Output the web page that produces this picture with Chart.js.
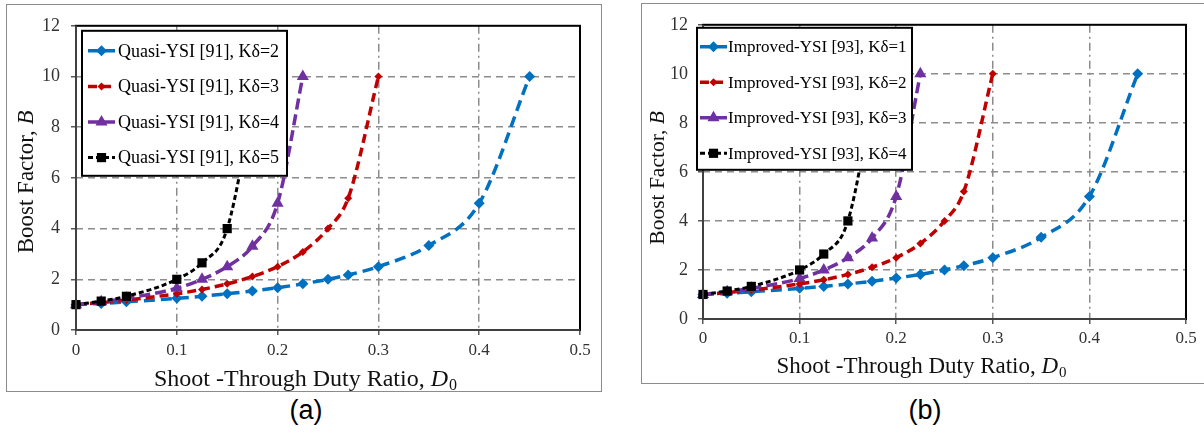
<!DOCTYPE html>
<html>
<head>
<meta charset="utf-8">
<script src="https://cdn.jsdelivr.net/npm/chart.js@4.4.0/dist/chart.umd.min.js"></script>
<style>
body { margin: 0; width: 1204px; height: 435px; background: #fff; position: relative; overflow: hidden; }
.box { position: absolute; border: 1px solid #8c8c8c; box-sizing: border-box; }
canvas { position: absolute; }
.cap { position: absolute; font-family: 'Liberation Sans', Arial, sans-serif; font-size: 27px; color: #000;
       transform: translate(-50%, -50%); white-space: nowrap; }
</style>
</head>
<body>
<div class="box" style="left:6px;top:4px;width:596px;height:388px"></div>
<div class="box" style="left:641px;top:3px;width:580px;height:381px"></div>
<canvas id="chartA" width="595" height="387" style="left:6px;top:4px"></canvas>
<canvas id="chartB" width="562" height="379" style="left:642px;top:4px"></canvas>
<div class="cap" style="left:306px;top:410px">(a)</div>
<div class="cap" style="left:925px;top:410px">(b)</div>
<script>
// shoot-through duty ratio D0 (x) and boost factor B (y)
const dBlue   = [0, 0.025, 0.05, 0.1, 0.125, 0.15, 0.175, 0.2, 0.225, 0.25, 0.27, 0.3, 0.35, 0.4, 0.45];
const bBlue   = [1, 1.05, 1.11, 1.25, 1.33, 1.43, 1.54, 1.67, 1.82, 2, 2.17, 2.5, 3.33, 5, 10];
const dRed    = [0, 0.025, 0.05, 0.1, 0.125, 0.15, 0.175, 0.2, 0.225, 0.25, 0.27, 0.3];
const bRed    = [1, 1.08, 1.18, 1.43, 1.6, 1.82, 2.11, 2.5, 3.08, 4, 5.2, 10];
const dPurple = [0, 0.025, 0.05, 0.1, 0.125, 0.15, 0.175, 0.2, 0.225];
const bPurple = [1, 1.11, 1.25, 1.65, 2, 2.5, 3.3, 5, 10];
const dBlack  = [0, 0.025, 0.05, 0.1, 0.125, 0.15, 0.18];
const bBlack  = [1, 1.14, 1.33, 2, 2.65, 4, 10];

// both panels show the same four curves
const labelsA = ['Quasi-YSI [91], Kδ=2', 'Quasi-YSI [91], Kδ=3', 'Quasi-YSI [91], Kδ=4', 'Quasi-YSI [91], Kδ=5'];
const labelsB = ['Improved-YSI [93], Kδ=1', 'Improved-YSI [93], Kδ=2', 'Improved-YSI [93], Kδ=3', 'Improved-YSI [93], Kδ=4'];

const xTicks = [0, 0.1, 0.2, 0.3, 0.4, 0.5];
const yTicks = [0, 2, 4, 6, 8, 10, 12];

const FONT = "'Liberation Serif', 'Times New Roman', serif";

const seriesStyle = [
	{color: '#0070C0', dash: [11, 6], width: 3.5, marker: 'rectRot', r: 5.5},
	{color: '#C00000', dash: [9, 5], width: 3.5, marker: 'rectRot', r: 4},
	{color: '#7030A0', dash: [11, 5], width: 3.5, marker: 'triangle', r: 7},
	{color: '#000000', dash: [5, 3], width: 3, marker: 'rect', r: 6.5}
];

function makeDatasets(labels) {
	const xs = [dBlue, dRed, dPurple, dBlack];
	const ys = [bBlue, bRed, bPurple, bBlack];
	return labels.map((lab, i) => {
		const s = seriesStyle[i];
		return {
			label: lab,
			data: xs[i].map((x, k) => ({x: x, y: ys[i][k]})),
			borderColor: s.color,
			backgroundColor: s.color,
			borderWidth: s.width,
			borderDash: s.dash,
			pointStyle: s.marker,
			pointRadius: s.r,
			pointBorderWidth: 0,
			pointBackgroundColor: s.color,
			cubicInterpolationMode: 'monotone',
			tension: 0.4,
			order: 3 - i,   // later series on top, like Excel
			clip: false
		};
	});
}

function marker(ctx, type, x, y, r) {
	ctx.beginPath();
	if (type === 'rectRot') {
		ctx.moveTo(x, y - r); ctx.lineTo(x + r, y); ctx.lineTo(x, y + r); ctx.lineTo(x - r, y);
	} else if (type === 'triangle') {
		ctx.moveTo(x, y - r); ctx.lineTo(x + r * 0.866, y + r * 0.5); ctx.lineTo(x - r * 0.866, y + r * 0.5);
	} else {
		const s = r * Math.SQRT1_2;
		ctx.rect(x - s, y - s, 2 * s, 2 * s);
	}
	ctx.closePath();
	ctx.fill();
}

// plot frame, boxed legend over the lines, and axis titles with italic symbols
const framePlugin = {
	id: 'frame',
	afterDatasetsDraw(chart, args, cfg) {
		const ctx = chart.ctx, a = chart.chartArea;
		ctx.save();
		ctx.lineWidth = 2;
		ctx.strokeStyle = '#000';
		ctx.strokeRect(a.left, a.top, a.right - a.left, a.bottom - a.top);
		ctx.strokeStyle = '#404040';
		ctx.beginPath();
		ctx.moveTo(a.left, a.top); ctx.lineTo(a.left, a.bottom); ctx.lineTo(a.right, a.bottom);
		ctx.stroke();

		const L = cfg.legend;
		const bx = a.left + L.dx, by = a.top + L.dy;
		ctx.fillStyle = '#fff';
		ctx.fillRect(bx, by, L.w, L.h);
		ctx.lineWidth = 2;
		ctx.strokeStyle = '#000';
		ctx.strokeRect(bx, by, L.w, L.h);
		ctx.font = L.size + 'px ' + FONT;
		ctx.textBaseline = 'middle';
		ctx.textAlign = 'left';
		chart.data.datasets.forEach((ds, i) => {
			const s = seriesStyle[i];
			const y = by + L.first + i * L.gap;
			ctx.strokeStyle = s.color;
			ctx.fillStyle = s.color;
			ctx.lineWidth = s.width;
			ctx.setLineDash(s.dash);
			ctx.beginPath();
			ctx.moveTo(bx + L.s0, y); ctx.lineTo(bx + L.s1, y);
			ctx.stroke();
			ctx.setLineDash([]);
			marker(ctx, s.marker, bx + (L.s0 + L.s1) / 2, y, s.r);
			ctx.fillStyle = '#000';
			ctx.fillText(ds.label, bx + L.tx, y + 1);
		});
		ctx.restore();
	},
	afterDraw(chart, args, cfg) {
		const ctx = chart.ctx, a = chart.chartArea;
		ctx.save();
		ctx.fillStyle = '#111';
		ctx.textAlign = 'left';
		ctx.textBaseline = 'alphabetic';

		// x title: Shoot -Through Duty Ratio, D0
		const X = cfg.xTitle, sz = X.size, sub = Math.round(sz * 0.65);
		const main = 'Shoot -Through Duty Ratio, ';
		ctx.font = sz + 'px ' + FONT;
		const w1 = ctx.measureText(main).width;
		ctx.font = 'italic ' + sz + 'px ' + FONT;
		const w2 = ctx.measureText('D').width;
		ctx.font = sub + 'px ' + FONT;
		const w3 = ctx.measureText('0').width;
		let x = (a.left + a.right) / 2 + X.dx - (w1 + w2 + w3) / 2;
		const base = a.bottom + X.dy + sz * 0.33;
		ctx.font = sz + 'px ' + FONT;
		ctx.fillText(main, x, base);
		ctx.font = 'italic ' + sz + 'px ' + FONT;
		ctx.fillText('D', x + w1, base);
		ctx.font = sub + 'px ' + FONT;
		ctx.fillText('0', x + w1 + w2 + 1, base + sz * 0.18);

		// y title: Boost Factor, B
		const Y = cfg.yTitle, ys = Y.size;
		ctx.translate(Y.x, (a.top + a.bottom) / 2 + Y.dy);
		ctx.rotate(-Math.PI / 2);
		ctx.font = ys + 'px ' + FONT;
		const v1 = ctx.measureText('Boost Factor, ').width;
		ctx.font = 'italic ' + ys + 'px ' + FONT;
		const v2 = ctx.measureText('B').width;
		const sx = -(v1 + v2) / 2;
		ctx.font = ys + 'px ' + FONT;
		ctx.fillText('Boost Factor, ', sx, ys * 0.33);
		ctx.font = 'italic ' + ys + 'px ' + FONT;
		ctx.fillText('B', sx + v1, ys * 0.33);
		ctx.restore();
	}
};

function makeOptions(cfg) {
	return {
		responsive: false,
		animation: false,
		layout: {padding: {top: cfg.top, right: cfg.right, left: 0, bottom: 0}},
		plugins: {legend: {display: false}, tooltip: {enabled: false}, frame: cfg},
		scales: {
			x: {
				type: 'linear',
				min: xTicks[0], max: xTicks[xTicks.length - 1],
				afterBuildTicks: s => { s.ticks = xTicks.map(v => ({value: v})); },
				ticks: {padding: cfg.xPad, color: '#333', font: {family: FONT, size: 17}},
				grid: {
					color: c => (c.index === 0 || c.index === xTicks.length - 1) ? 'rgba(0,0,0,0)' : '#8c8c8c',
					lineWidth: 1.5, tickLength: 5, tickColor: '#595959', tickWidth: 1.5
				},
				border: {display: false, dash: [8, 4, 2, 4]},
				afterFit: s => { s.height = cfg.xh; }
			},
			y: {
				type: 'linear',
				min: yTicks[0], max: yTicks[yTicks.length - 1],
				afterBuildTicks: s => { s.ticks = yTicks.map(v => ({value: v})); },
				ticks: {padding: cfg.yPad, color: '#333', font: {family: FONT, size: 18}},
				grid: {
					color: c => (c.index === 0 || c.index === yTicks.length - 1) ? 'rgba(0,0,0,0)' : '#8c8c8c',
					lineWidth: 1.5, tickLength: 5, tickColor: '#595959', tickWidth: 1.5
				},
				border: {display: false, dash: [7, 5]},
				afterFit: s => { s.width = cfg.yw; }
			}
		}
	};
}

new Chart(document.getElementById('chartA'), {
	type: 'line',
	data: {datasets: makeDatasets(labelsA)},
	options: makeOptions({
		top: 20, right: 21, yw: 70, xh: 61, xPad: 5, yPad: 11,
		legend: {dx: 6, dy: 5, w: 205, h: 145, first: 20, gap: 35.6, s0: 6, s1: 33, tx: 36, size: 18},
		xTitle: {dx: -23, dy: 48, size: 24},
		yTitle: {x: 19, dy: 4, size: 23}
	}),
	plugins: [framePlugin]
});

new Chart(document.getElementById('chartB'), {
	type: 'line',
	data: {datasets: makeDatasets(labelsB)},
	options: makeOptions({
		top: 19, right: 18, yw: 61, xh: 64, xPad: 4, yPad: 10,
		legend: {dx: -6, dy: 3, w: 215, h: 142, first: 19, gap: 35.5, s0: 3, s1: 30, tx: 31, size: 17},
		xTitle: {dx: -23.5, dy: 46, size: 23},
		yTitle: {x: 15, dy: 6, size: 21.5}
	}),
	plugins: [framePlugin]
});
</script>
</body>
</html>
